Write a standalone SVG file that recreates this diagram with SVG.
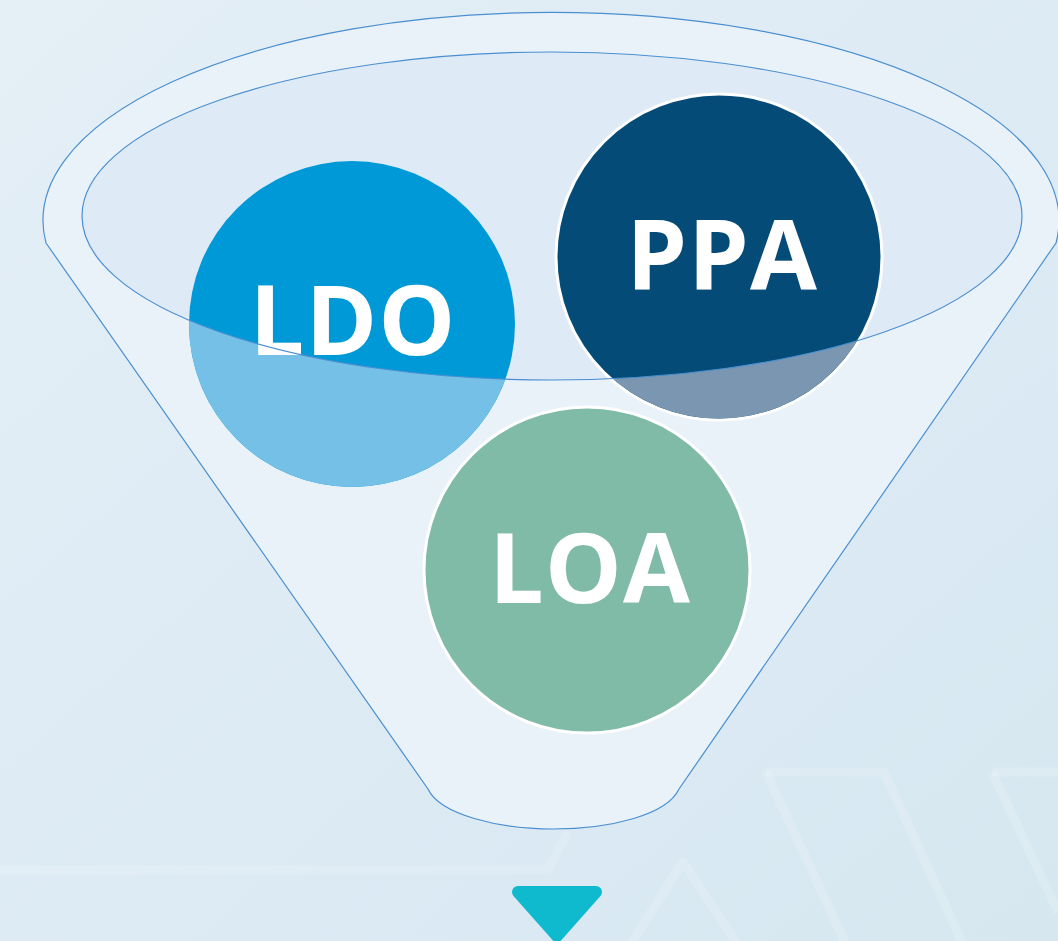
<svg xmlns="http://www.w3.org/2000/svg" width="1058" height="941" viewBox="0 0 1058 941">
  <defs>
    <linearGradient id="bg" x1="0" y1="0" x2="1" y2="1">
      <stop offset="0" stop-color="#E4EFF6"/>
      <stop offset="0.6" stop-color="#DCEAF4"/>
      <stop offset="1" stop-color="#D6E7F0"/>
    </linearGradient>
    <clipPath id="front">
      <path clip-rule="evenodd" d="M0 216 H1058 V941 H0 Z M82 216 A470 164 0 0 0 1022 216 Z"/>
    </clipPath>
    <style>
      .hex { fill: none; stroke: #FFFFFF; stroke-opacity: 0.16; stroke-width: 9; stroke-linejoin: round; }
      .outline { stroke: #4A8FD0; stroke-width: 1.2; }
      .ring { stroke: #FFFFFF; stroke-width: 3; }
      .label { font-family: "Open Sans", "Liberation Sans", sans-serif; font-weight: 700; fill: #FFFFFF; text-anchor: middle; font-size: 97px; letter-spacing: 1px; }
    </style>
  </defs>

  <rect x="0" y="0" width="1058" height="941" fill="url(#bg)"/>

  <g id="background-pattern">
    <path class="hex" d="M766 772 H884 L962 942"/>
    <path class="hex" d="M766 772 L845 942"/>
    <path class="hex" d="M992 772 H1058"/>
    <path class="hex" d="M992 772 L1058 912"/>
    <path class="hex" d="M630 945 L683 862 L738 945"/>
    <path class="hex" d="M0 870 H548 L568 832"/>
  </g>

  <g id="funnel">
    <path class="outline" fill="#EAF2F9" d="M46 243 L428 789 C440 815 500 829 553 829 C610 829 667 815 679 789 L1056 243 A508 208 0 1 0 46 243 Z"/>
    <ellipse cx="552" cy="216" rx="470" ry="164" fill="#DEEAF5"/>
  </g>

  <g id="node-ldo">
    <circle cx="352" cy="324" r="163" fill="#0099D8"/>
    <circle cx="352" cy="324" r="163" fill="#75C0E6" clip-path="url(#front)"/>
    <text class="label" x="353" y="355">LDO</text>
  </g>

  <g id="node-ppa">
    <circle class="ring" cx="719" cy="257" r="163" fill="#044C77"/>
    <circle cx="719" cy="257" r="161.5" fill="#7A96B0" clip-path="url(#front)"/>
    <text class="label" x="722" y="290">PPA</text>
  </g>

  <g id="node-loa">
    <circle class="ring" cx="587" cy="570" r="163" fill="#80BBA7"/>
    <text class="label" x="590" y="603">LOA</text>
  </g>

  <g id="connectors">
    <ellipse class="outline" cx="552" cy="216" rx="470" ry="164" fill="none"/>
    <polygon points="518,892 596,892 557,936" fill="#10BACE" stroke="#10BACE" stroke-width="12" stroke-linejoin="round"/>
  </g>
</svg>
